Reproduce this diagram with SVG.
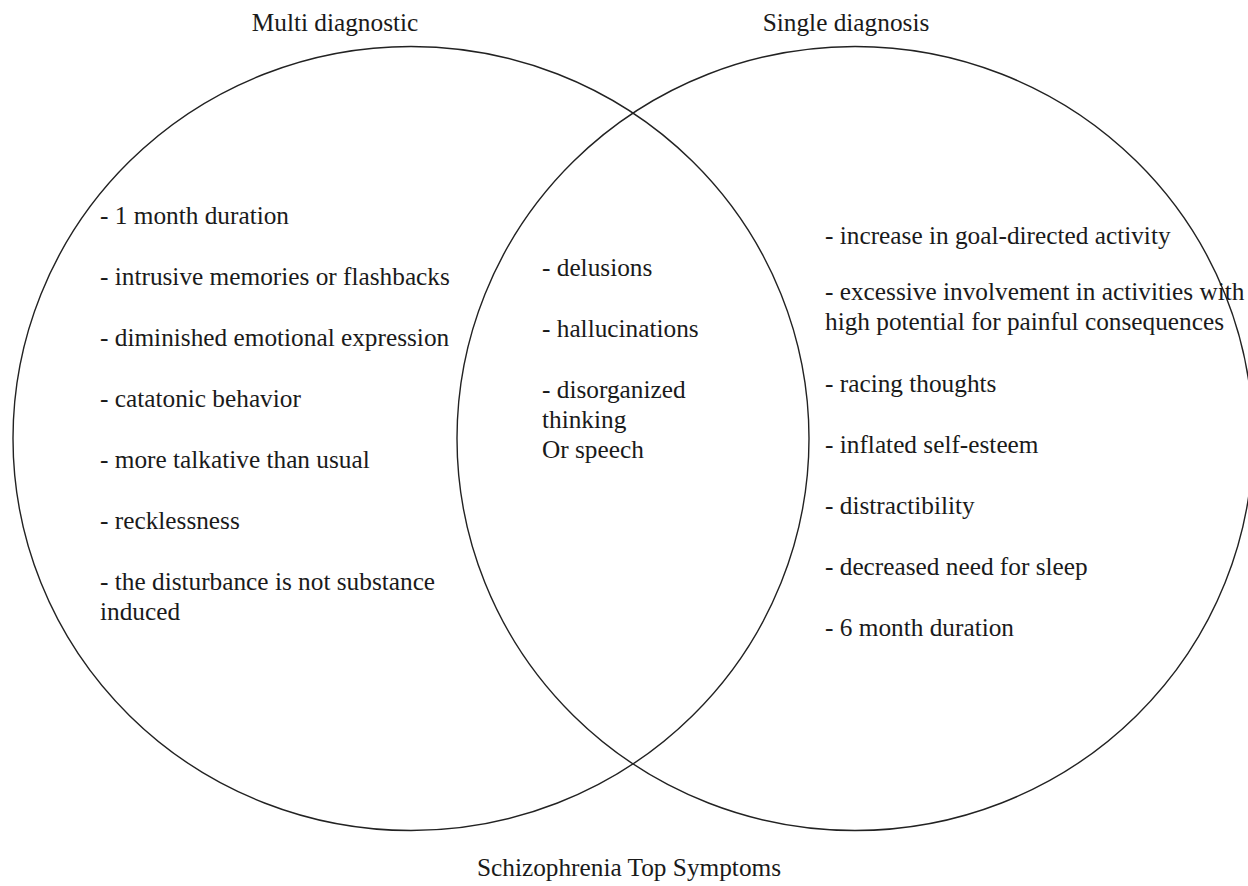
<svg xmlns="http://www.w3.org/2000/svg" width="1248" height="886" viewBox="0 0 1248 886">
<style>
.t{font-family:"Liberation Serif","Times New Roman",serif;font-size:25.3px;fill:#1a1a1a}
.c{fill:none;stroke:#222;stroke-width:1.4}
.m{text-anchor:middle}
</style>
<rect width="1248" height="886" fill="#fff"/>
<g id="connectors"></g>
<g id="set-left">
<ellipse class="c" cx="411" cy="438.5" rx="398" ry="392"/>
<text class="t m" x="335" y="31">Multi diagnostic</text>
<text class="t" x="100" y="224">- 1 month duration</text>
<text class="t" x="100" y="285">- intrusive memories or flashbacks</text>
<text class="t" x="100" y="346">- diminished emotional expression</text>
<text class="t" x="100" y="407">- catatonic behavior</text>
<text class="t" x="100" y="468">- more talkative than usual</text>
<text class="t" x="100" y="529">- recklessness</text>
<text class="t" x="100" y="590">- the disturbance is not substance</text>
<text class="t" x="100" y="620">induced</text>
</g>
<g id="set-right">
<ellipse class="c" cx="855" cy="438.5" rx="398" ry="392"/>
<text class="t m" x="846" y="31">Single diagnosis</text>
<text class="t" x="825" y="244">- increase in goal-directed activity</text>
<text class="t" x="825" y="300">- excessive involvement in activities with</text>
<text class="t" x="825" y="330">high potential for painful consequences</text>
<text class="t" x="825" y="392">- racing thoughts</text>
<text class="t" x="825" y="453">- inflated self-esteem</text>
<text class="t" x="825" y="514">- distractibility</text>
<text class="t" x="825" y="575">- decreased need for sleep</text>
<text class="t" x="825" y="636">- 6 month duration</text>
</g>
<g id="overlap">
<text class="t" x="542" y="276">- delusions</text>
<text class="t" x="542" y="337">- hallucinations</text>
<text class="t" x="542" y="398">- disorganized</text>
<text class="t" x="542" y="428">thinking</text>
<text class="t" x="542" y="458">Or speech</text>
</g>
<g id="caption">
<text class="t m" x="629" y="876">Schizophrenia Top Symptoms</text>
</g>
</svg>
